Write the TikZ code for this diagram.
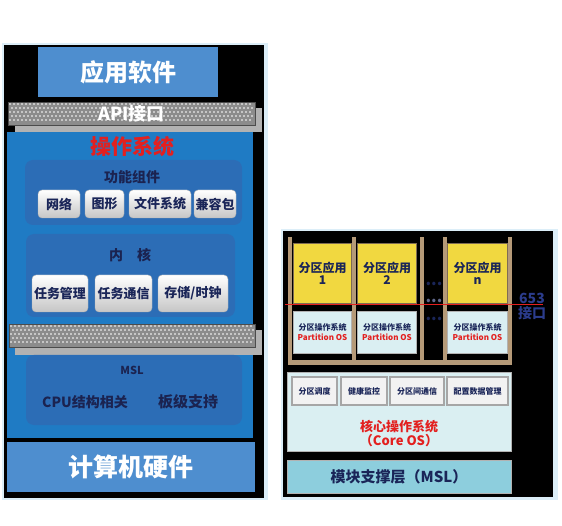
\documentclass[tikz,border=0pt]{standalone}
\usepackage{fontspec}
\setmainfont{Noto Sans CJK SC}
\usetikzlibrary{positioning,patterns}
\definecolor{appblau}{HTML}{4E8ECF}
\definecolor{osblau}{HTML}{1F7BC4}
\definecolor{osdunkel}{HTML}{2C6DB6}
\definecolor{marine}{HTML}{1A2558}
\definecolor{tiefblau}{HTML}{1B2350}
\definecolor{schnitt}{HTML}{2B3C8C}
\definecolor{rot}{HTML}{E3201F}
\definecolor{gelb}{HTML}{F1D840}
\definecolor{hellcyan}{HTML}{DAEFF2}
\definecolor{mslcyan}{HTML}{8DCEDD}
\definecolor{holz}{HTML}{B59A78}
\definecolor{schein}{HTML}{DCEEF8}
\definecolor{rastergrau}{HTML}{8C8C8C}
\newcommand{\schrift}[1]{\fontsize{#1}{#1}\selectfont}

\begin{document}
\begin{tikzpicture}[
		x=1pt, y=-1pt,
		outer sep=0pt,
		inner sep=0pt,
		node distance=5pt,
		flaeche/.style={rectangle, minimum height=#1},
		panel/.style={fill=osdunkel, rounded corners=8pt},
		raster/.style={draw=black!70, fill=rastergrau},
		paneltext/.style={fill=osdunkel, inner sep=1pt, text=tiefblau, font=\schrift{#1}\bfseries\color{tiefblau}},
		knopf/.style={draw=gray!60, rounded corners=4pt, top color=white, bottom color=gray!45, minimum height=#1, text=marine, font=\schrift{13}\bfseries},
		knopfb/.style={draw=gray!70, line width=1.2pt, fill=gray!10, minimum height=28, text=marine, font=\schrift{8}\bfseries},
		gelbbox/.style={draw=holz!70!black, fill=gelb, minimum height=60, text=marine, align=center, font=\schrift{12}\bfseries},
		posbox/.style={draw=gray!60, fill=hellcyan, minimum height=42, align=center, text=marine, font=\schrift{8}\bfseries},
		pfosten/.style={fill=holz},
		punkte/.style={text=marine, font=\schrift{16}\bfseries}
	]
	\useasboundingbox (0,0) rectangle (562,526);

	% linke Seite
	\fill[schein] (2,43) rectangle (268,500);
	\fill[black] (4,45) rectangle (264,498);

	\node[flaeche=50, fill=appblau, minimum width=180, text=white, font=\schrift{24}\bfseries] (app) at (128,72) {应用软件};

	\fill[osblau] (7,132) rectangle (253,438);
	\fill[gray!60] (15,108) rectangle (262,132);
	\node[flaeche=23, raster, minimum width=247] (api) at (131.5,113.5) {};
	% Schachbrett von Hand
	\foreach \i in {0,...,60}
		\foreach \j in {0,1,2,3,4}
			\fill[gray!45] ({9+4*\i+2*mod(\j,2)},{103+4*\j}) rectangle ++(2,2);
	\node[text=white, font=\schrift{18}\bfseries] (apitxt) at (api) {API接口};
	\node[text=rot, font=\schrift{21}\bfseries] (os) at (132,147) {操作系统};

	% Funktionskomponenten
	\fill[panel] (25,160) rectangle (242,225);
	\node[paneltext=14] (funk) at (132,177) {功能组件};
	\node[knopf=28, minimum width=42] (netz) at (59,204) {网络};
	\node[knopf=28, minimum width=39, right=of netz] (grafik) {图形};
	\node[knopf=28, minimum width=62, right=of grafik] (datei) {文件系统};
	\node[knopf=28, minimum width=42, right=3pt of datei] (kompat) {兼容包};

	% Kern
	\fill[panel] (26,234) rectangle (235,317);
	\node[paneltext=14] (kern) at (130,255) {内\quad 核};
	\node[knopf=37, minimum width=56] (taskm) at (60,293.5) {任务管理};
	\node[knopf=37, minimum width=57, right=7pt of taskm] (taskk) {任务通信};
	\node[knopf=37, minimum width=70, right=6pt of taskk] (speicher) {存储/时钟};

	\fill[gray!60] (15,330) rectangle (262,355);
	\node[flaeche=23, raster, minimum width=246] (trenn) at (132,335.5) {};
	\foreach \i in {0,...,60}
		\foreach \j in {0,1,2,3,4}
			\fill[gray!45] ({10+4*\i+2*mod(\j,2)},{325+4*\j}) rectangle ++(2,2);

	% MSL
	\fill[panel] (26,355) rectangle (242,425);
	\node[paneltext=11] (msl) at (132,370) {MSL};
	\node[paneltext=14] (cpu) at (85,402) {CPU结构相关};
	\node[paneltext=15] (board) at (188,402) {板级支持};

	\node[flaeche=50, fill=appblau, minimum width=248, text=white, font=\schrift{25}\bfseries] (hw) at (131,467) {计算机硬件};

	% rechte Seite
	\fill[schein] (281,229) rectangle (558,500);
	\fill[black] (283,231) rectangle (553,497);
	\foreach \px in {288,352,420,443,508}
		\fill[pfosten] (\px,237) rectangle ++(4,128);
	\fill[pfosten] (288,360) rectangle (512,365);

	\node[gelbbox, minimum width=58] (app1) at (322.5,273) {分区应用\\1};
	\node[gelbbox, minimum width=59] (app2) at (387,273) {分区应用\\2};
	\node[gelbbox, minimum width=60] (appn) at (477.5,273) {分区应用\\n};

	\node[posbox, minimum width=58] (pos1) at (322.5,332) {分区操作系统\\[2pt]\textcolor{rot}{Partition OS}};
	\node[posbox, minimum width=59] (pos2) at (387,332) {分区操作系统\\[2pt]\textcolor{rot}{Partition OS}};
	\node[posbox, minimum width=60] (posn) at (477.5,332) {分区操作系统\\[2pt]\textcolor{rot}{Partition OS}};

	\node[punkte] (punkte1) at (434,284) {...};
	\node[punkte, text=marine!70] (punkte2) at (434,301) {...};
	\node[punkte] (punkte3) at (434,319) {...};

	\coordinate (linksl) at (285,305);
	\coordinate (rechtsl) at (543,305);
	\draw[rot, line width=1pt] (linksl) -- (rechtsl);
	\node[text=schnitt, font=\schrift{14}\bfseries, align=center] (apex) at (532,306) {653\\[1pt]接口};

	% Kernbetriebssystem
	\node[draw=gray!60, line width=1pt, fill=hellcyan, minimum width=224, minimum height=79] (core) at (399,411.5) {};
	\node[knopfb, minimum width=45] (sched) at (314.5,391) {分区调度};
	\node[knopfb, minimum width=46] (health) at (364,391) {健康监控};
	\node[knopfb, minimum width=54] (komm) at (417,391) {分区间通信};
	\node[knopfb, minimum width=61] (konfig) at (477.5,391) {配置数据管理};
	\node[text=rot, font=\schrift{13}\bfseries, align=center] (coretxt) at (399,434) {核心操作系统\\[1pt]（Core OS）};

	\node[draw=gray!60, line width=1pt, fill=mslcyan, minimum width=224, minimum height=33, text=marine, font=\schrift{15}\bfseries] (mslr) at (399,476.5) {模块支撑层（MSL）};

\end{tikzpicture}
\end{document}
